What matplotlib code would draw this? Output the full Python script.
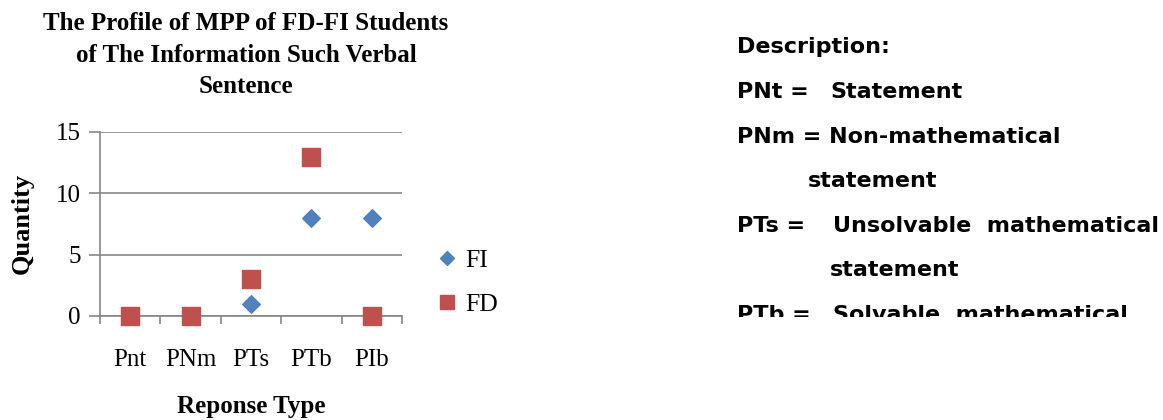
import numpy as np
import matplotlib.pyplot as plt
from matplotlib.lines import Line2D

# data
categories = ['Pnt', 'PNm', 'PTs', 'PTb', 'PIb']
fi_values = [0, 0, 1, 8, 8]
fd_values = [0, 0, 3, 13, 0]

FI_COLOR = '#4F81BD'
FD_COLOR = '#C0504D'
GRID = '#868686'

W, H = 1163, 420
fig = plt.figure(figsize=(W / 100, H / 100), dpi=100)

ax = fig.add_axes([100 / W, 1 - 316 / H, 302 / W, 184 / H])
x = np.arange(len(categories))
ax.scatter(x, fi_values, marker='D', s=80, color=FI_COLOR, zorder=3, label='FI', clip_on=False)
ax.scatter(x, fd_values, marker='s', s=175, color=FD_COLOR, zorder=4, label='FD', clip_on=False)

ax.set_xlim(-0.5, len(categories) - 0.5)
ax.set_ylim(0, 15)
ax.set_yticks([0, 5, 10, 15])
ax.yaxis.grid(True, color=GRID, lw=1.2)
ax.set_axisbelow(True)

# category boundaries as ticks, names in the middle
ax.set_xticks(np.arange(len(categories) + 1) - 0.5)
ax.set_xticklabels([])
ax.set_xticks(x, minor=True)
ax.set_xticklabels(categories, minor=True)
ax.tick_params(axis='x', which='major', length=6, color=GRID, width=1.2)
ax.tick_params(axis='x', which='minor', length=0, pad=24)
ax.tick_params(axis='y', length=8, color=GRID, width=1.2, pad=6)
for lab in ax.get_xticklabels(minor=True) + ax.get_yticklabels():
    lab.set_fontfamily('Liberation Serif')
    lab.set_fontsize(18)

for s in ['top', 'right']:
    ax.spines[s].set_visible(False)
for s in ['left', 'bottom']:
    ax.spines[s].set_color(GRID)
    ax.spines[s].set_linewidth(1.2)

serif_bold = dict(fontfamily='Liberation Serif', fontweight='bold')
fig.text(246 / W, 1 - 55 / H, 'The Profile of MPP of FD-FI Students\nof The Information Such Verbal\nSentence',
         ha='center', va='center', fontsize=18, linespacing=1.45, **serif_bold)
fig.text(251 / W, 1 - 407 / H, 'Reponse Type', ha='center', va='center', fontsize=18, **serif_bold)
fig.text(22 / W, 1 - 223 / H, 'Quantity', ha='center', va='center', rotation=90, fontsize=19, **serif_bold)

# legend
handles = [Line2D([], [], ls='', marker='D', ms=7.5, color=FI_COLOR),
           Line2D([], [], ls='', marker='s', ms=10.5, color=FD_COLOR)]
leg = fig.legend(handles, ['FI', 'FD'], loc='upper left', bbox_to_anchor=(414 / W, 1 - 228 / H),
                 frameon=False, handlelength=1.0, handletextpad=0.2, labelspacing=0.85,
                 borderpad=0.3, prop={'family': 'Liberation Serif', 'size': 18.5})

# description block on the right, cut off at the bottom like the source
clip_ax = fig.add_axes([720 / W, 1 - 317 / H, 443 / W, 297 / H])
clip_ax.set_axis_off()
desc_rows = [
    (737, 53, 'Description:'),
    (737, 98, 'PNt ='), (830, 98, 'Statement'),
    (737, 143, 'PNm = Non-mathematical'),
    (808, 187, 'statement'),
    (737, 232, 'PTs ='), (833, 232, 'Unsolvable  mathematical'),
    (830, 276, 'statement'),
    (737, 321, 'PTb ='), (833, 321, 'Solvable  mathematical'),
]
for px, py, txt in desc_rows:
    t = fig.text(px / W, 1 - py / H, txt, ha='left', va='baseline', fontsize=16,
                 fontfamily='DejaVu Sans', fontweight='bold')
    t.set_clip_box(clip_ax.bbox)
    t.set_clip_on(True)

fig.savefig('out.png', dpi=100)
